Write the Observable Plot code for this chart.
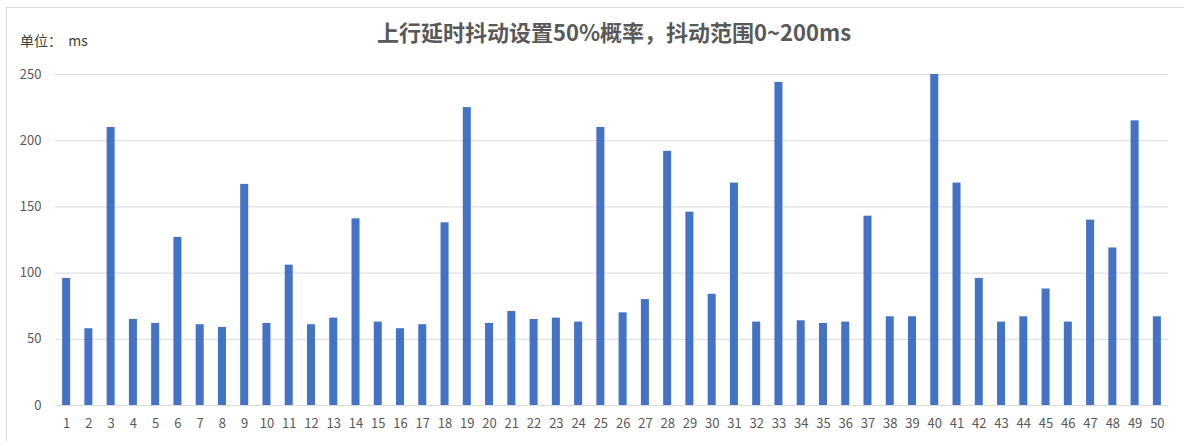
<!DOCTYPE html>
<html>
<head>
<meta charset="utf-8">
<script src="https://cdn.jsdelivr.net/npm/d3@7"></script>
<script src="https://cdn.jsdelivr.net/npm/@observablehq/plot@0.6"></script>
<style>
  html, body { margin: 0; padding: 0; background: #fff; overflow: hidden; }
  #wrap { position: relative; width: 1184px; height: 441px; }
  #border { position: absolute; left: 6px; top: 7px; width: 1200px; height: 460px; border: 1px solid #d9d9d9; box-sizing: border-box; }
  #title { position: absolute; left: 0; width: 1228px; top: 16px; text-align: center; font-family: "Noto Sans CJK SC", sans-serif; font-weight: bold; font-size: 22px; color: #595959; line-height: 30px; }
  #unit { position: absolute; left: 20px; top: 30px; font-family: "Noto Sans CJK SC", sans-serif; font-size: 14px; color: #404040; line-height: 20px; white-space: pre; }
  #chart { position: absolute; left: 0; top: 0; }
</style>
</head>
<body>
<div id="wrap">
  <div id="border"></div>
  <div id="chart"></div>
  <div id="title">上行延时抖动设置50%概率，抖动范围0~200ms</div>
  <div id="unit">单位：  ms</div>
</div>
<script>
const categories = Array.from({length: 50}, (_, i) => String(i + 1));
const values = [
  96, 58, 210, 65, 62, 127, 61, 59, 167, 62,
  106, 61, 66, 141, 63, 58, 61, 138, 225, 62,
  71, 65, 66, 63, 210, 70, 80, 192, 146, 84,
  168, 63, 244, 64, 62, 63, 143, 67, 67, 250,
  168, 96, 63, 67, 88, 63, 140, 119, 215, 67
];
const yTicks = [0, 50, 100, 150, 200, 250];

const data = categories.map((c, i) => ({cat: c, v: values[i]}));

const chart = Plot.plot({
  width: 1184,
  height: 441,
  marginLeft: 55,
  marginRight: 16,
  marginTop: 74,
  marginBottom: 36,
  style: {background: "transparent", fontFamily: "'Noto Sans CJK SC', sans-serif", fontSize: "13px", color: "#595959"},
  x: {type: "band", domain: categories, paddingInner: 0.64, paddingOuter: 0.32, round: false, label: null},
  y: {domain: [0, 250], label: null},
  marks: [
    Plot.gridY(yTicks, {stroke: "#d9d9d9", strokeOpacity: 1}),
    Plot.barY(data, {x: "cat", y: "v", fill: "#4472C4"}),
    Plot.ruleY([0], {stroke: "#d9d9d9"}),
    Plot.axisY(yTicks, {tickSize: 0, tickPadding: 14, fill: "#595959", fontSize: 13, label: null}),
    Plot.axisX({tickSize: 0, tickPadding: 13, fill: "#595959", fontSize: 13, label: null})
  ]
});
document.getElementById("chart").appendChild(chart);
</script>
</body>
</html>
